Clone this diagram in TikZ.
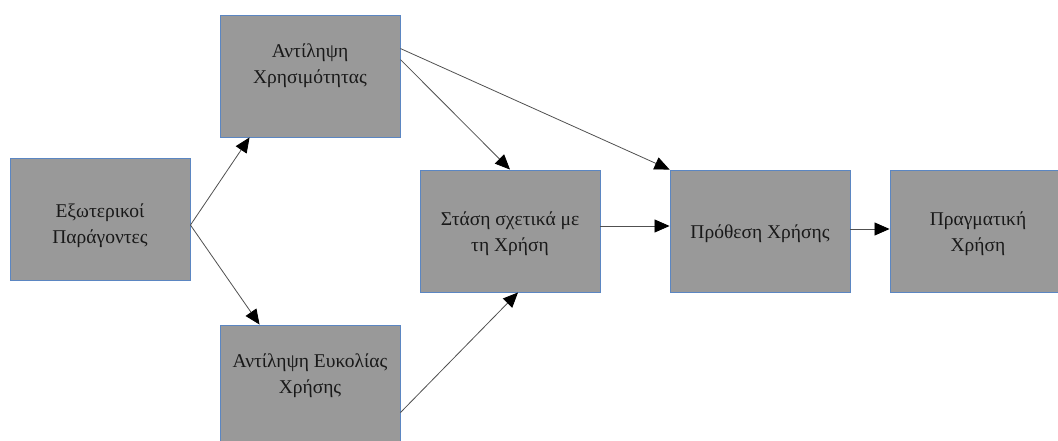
\documentclass[tikz,border=0pt]{standalone}
\usepackage{fontspec}
\setmainfont{Liberation Serif}
\usetikzlibrary{arrows.meta,calc}
\definecolor{boxfill}{HTML}{999999}
\definecolor{boxline}{HTML}{5B86C2}
\definecolor{conn}{HTML}{505050}
\tikzset{
  blk/.style={draw=boxline,fill=boxfill,line width=0.9pt,minimum width=180pt,minimum height=122pt,inner sep=0pt},
  lbl/.style={align=center,font=\fontsize{19.5pt}{26pt}\selectfont,text=black!90,inner sep=0pt},
  conn/.style={draw=conn,line width=0.8pt,-{Triangle[length=15pt,width=13pt,color=black]}}
}
\begin{document}
\begin{tikzpicture}[x=1pt,y=-1pt]
\useasboundingbox (0,0) rectangle (1058,441);
\node[blk] (A) at (100,219.5) {};
\node[blk] (B) at (310,76) {};
\node[blk] (C) at (310,386) {};
\node[blk] (D) at (510,231) {};
\node[blk] (E) at (760,231) {};
\node[blk] (F) at (980,231) {};
\node[lbl] (tA) at (100,226) {Εξωτερικοί\\Παράγοντες};
\node[lbl] (tB) at (310,66) {Αντίληψη\\Χρησιμότητας};
\node[lbl] (tC) at (310,376) {Αντίληψη Ευκολίας\\Χρήσης};
\node[lbl] (tD) at (510,234) {Στάση σχετικά με\\τη Χρήση};
\node[lbl] (tE) at (760,234) {Πρόθεση Χρήσης};
\node[lbl] (tF) at (978,234) {Πραγματική\\Χρήση};
\coordinate (a0) at ($(A.north east)+(0,67)$);
\coordinate (b1) at ($(B.north east)+(0,34)$);
\coordinate (b2) at ($(B.north east)+(0,45)$);
\coordinate (c1) at ($(C.north east)+(0,88)$);
\draw[conn] (a0) -- ($(B.south west)+(30,0)$);
\draw[conn] (a0) -- ($(C.north west)+(40,0)$);
\draw[conn] (b1) -- (E.north west);
\draw[conn] (b2) -- (D.north);
\draw[conn] (c1) -- ($(D.south)+(8,0)$);
\draw[conn] ($(D.east)+(0,-5)$) -- ($(E.west)+(0,-5)$);
\draw[conn] ($(E.east)+(0,-2)$) -- ($(F.west)+(0,-2)$);
\end{tikzpicture}
\end{document}
